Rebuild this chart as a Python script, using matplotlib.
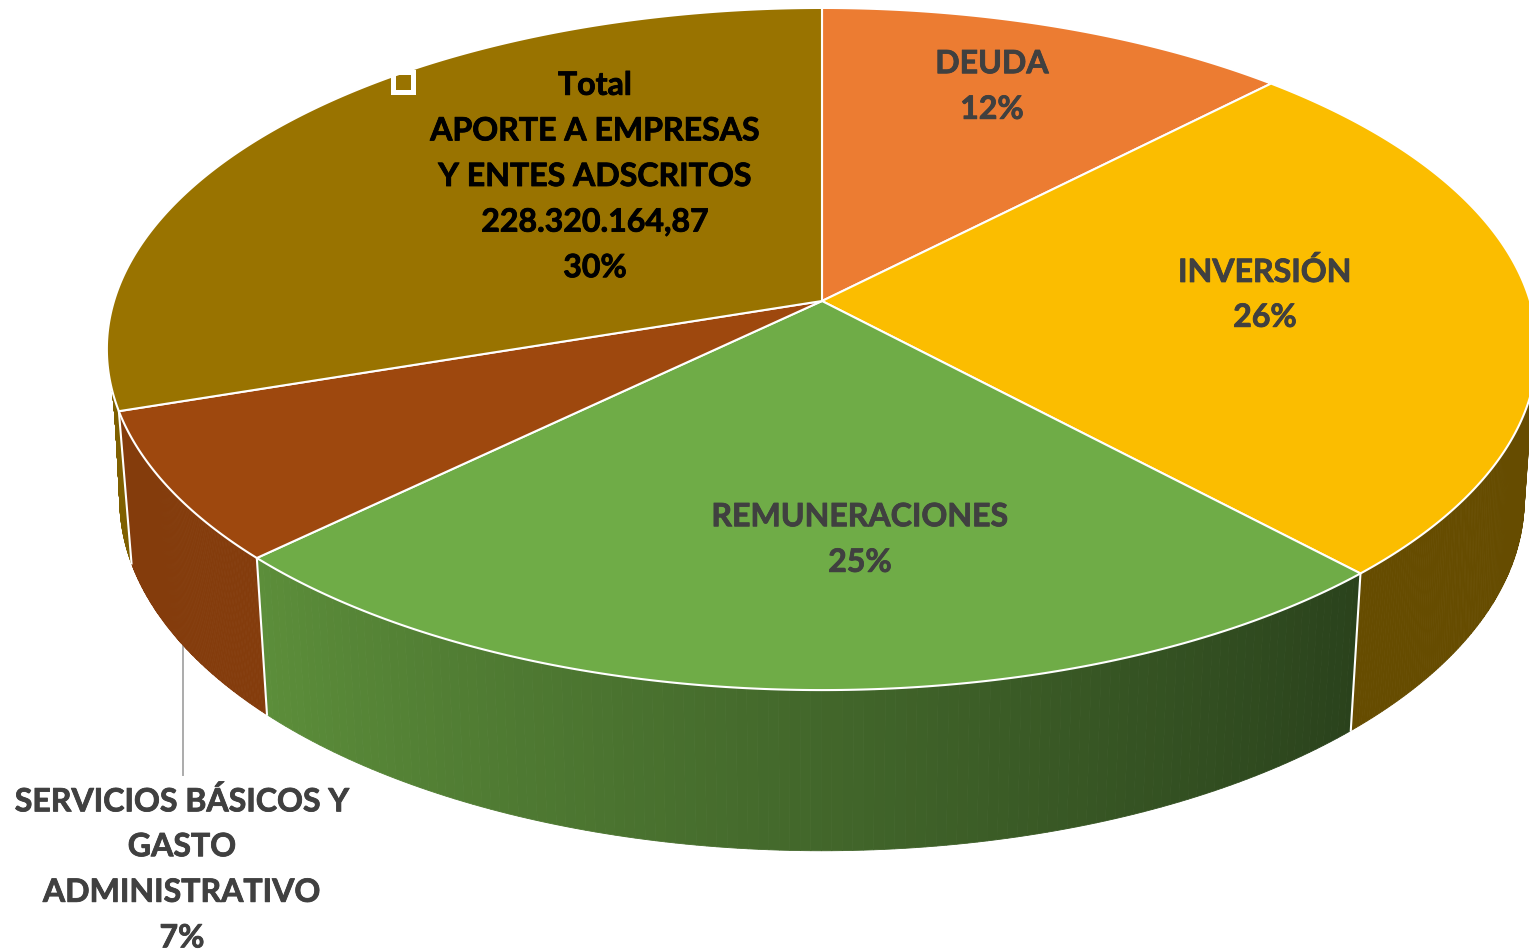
import numpy as np
import matplotlib
matplotlib.use("Agg")
import matplotlib.pyplot as plt
import matplotlib.patheffects as pe
from matplotlib.colors import to_rgb
from matplotlib.patches import Polygon, Rectangle

# ---- data ----
categories = ["DEUDA", "INVERSIÓN", "REMUNERACIONES",
              "SERVICIOS BÁSICOS Y\nGASTO\nADMINISTRATIVO",
              "Total\nAPORTE A EMPRESAS\nY ENTES ADSCRITOS\n228.320.164,87"]
shares = [12.3, 25.75, 24.75, 7.1, 30.1]
top_colors = ["#EC7C32", "#FBBD00", "#6FAC47", "#9E480E", "#997300"]
label_colors = ["#404040", "#404040", "#404040", "#404040", "#000000"]
label_centers = [(992, 84), (1265, 292), (860, 537), (182, 867), (595, 174)]

# ---- projection of the 3-D pie (pixel space) ----
CX, CY = 822.0, 301.0
A, B, K = 708.0, 334.3, 0.1408
SX, SY, Y_BOT = 0.982, 1.03, 450.0


def rim(theta, bottom=False):
    t = np.radians(theta)
    w = 1 + K * np.cos(t)
    x, y = A * np.sin(t) / w, -B * np.cos(t) / w
    if bottom:
        return CX + SX * x, Y_BOT + SY * y
    return CX + x, CY + y


def side(ax, t0, t1, color, color2=None, t0b=None, t1b=None, n=120):
    c0 = np.array(to_rgb(color))
    c1 = np.array(to_rgb(color2 or color))
    ts = np.linspace(t0, t1, n + 1)
    tb = np.linspace(t0 if t0b is None else t0b, t1 if t1b is None else t1b, n + 1)
    for i in range(n):
        xt, yt = rim(np.linspace(ts[i], ts[i + 1], 3))
        xb, yb = rim(np.linspace(tb[i], tb[i + 1], 3), bottom=True)
        pts = np.r_[np.c_[xt, yt], np.c_[xb, yb][::-1]]
        col = c0 + (c1 - c0) * (i + 0.5) / n
        ax.add_patch(Polygon(pts, closed=True, fc=col, ec=col, lw=0.6, zorder=2))


fig = plt.figure(figsize=(15.29, 9.51), dpi=100, facecolor="white")
ax = fig.add_axes([0, 0, 1, 1])
ax.set_xlim(0, 1529)
ax.set_ylim(951, 0)
ax.axis("off")

edges = np.r_[0, np.cumsum(shares)] * 3.6

# side walls
side(ax, 104, edges[2], "#664C00", t0b=100)
side(ax, edges[2], edges[3], "#2A421C", "#5C8E3A")
side(ax, edges[3], edges[4], "#843C0C")
side(ax, edges[4], 255, "#7F6000", t1b=266)

# white seams between walls
for e in edges[2:5]:
    xt, yt = rim(e)
    xb, yb = rim(e, bottom=True)
    ax.plot([xt, xb], [yt, yb], color="white", lw=1.5, zorder=3)

# top wedges
for c, t0, t1 in zip(top_colors, edges[:-1], edges[1:]):
    x, y = rim(np.linspace(t0, t1, 200))
    pts = np.r_[[[CX, CY]], np.c_[x, y]]
    ax.add_patch(Polygon(pts, closed=True, fc=c, ec="white", lw=1.5,
                         joinstyle="round", zorder=4))

# leader line
ax.plot([183, 183], [645, 775], color="#ABABAB", lw=1.4, zorder=1)

# selection handle
ax.add_patch(Rectangle((392.5, 71.5), 20, 20, fc="none", ec="white", lw=3.6, zorder=5))

# labels
STEP = 45.6
for name, val, col, (cx, cy) in zip(categories, shares, label_colors, label_centers):
    lines = name.split("\n") + [f"{val:.0f}%"]
    y0 = cy - STEP * (len(lines) - 1) / 2
    for j, s in enumerate(lines):
        ax.text(cx, y0 + j * STEP, s, ha="center", va="center_baseline", color=col,
                fontsize=23.1, fontweight="bold", family="Lato", zorder=6,
                path_effects=[pe.withStroke(linewidth=0.6, foreground=col)])

fig.savefig("out.png", dpi=100)
